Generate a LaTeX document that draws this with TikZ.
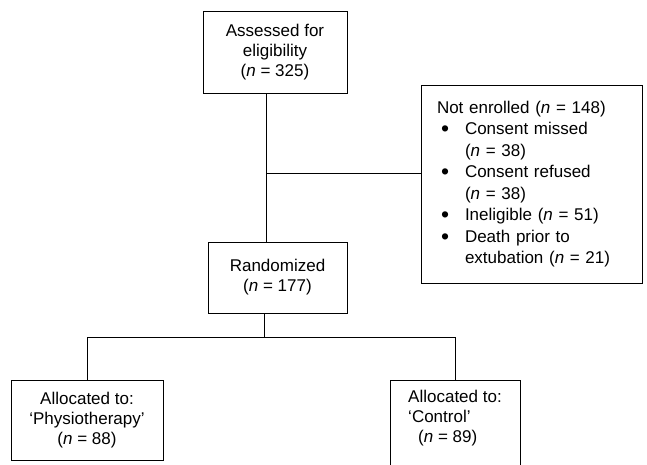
\documentclass[tikz,border=0pt]{standalone}
\usepackage{fontspec}
\setmainfont{Liberation Sans}
\tikzstyle{box} = [draw,line width=.9pt,align=center,inner sep=6pt]
\tikzstyle{link} = [line width=.9pt]
\newcommand{\nn}{\textit{n}}
\newcommand{\bul}{\hspace*{4pt}\makebox[24pt][l]{\raisebox{-2pt}{\scalebox{1.35}{\textbullet}}}}
\newcommand{\ind}{\hspace*{28pt}}

\begin{document}
\begin{tikzpicture}[x=1pt,y=1pt,every node/.style={font=\fontsize{17}{20}\selectfont}]
	\useasboundingbox (0,0) rectangle (647,464);
	\node [box,minimum width=144pt,minimum height=82pt](assess) at (275,412){Assessed for\\eligibility\\(\nn{} = 325)};
	\node [box,align=left,text width=189pt,inner xsep=16pt,minimum height=198pt,font=\fontsize{17}{21.5}\selectfont](notenr) at (531.5,280){Not enrolled (\nn{} = 148)\\
		\bul Consent missed\\ \ind(\nn{} = 38)\\
		\bul Consent refused\\ \ind(\nn{} = 38)\\
		\bul Ineligible (\nn{} = 51)\\
		\bul Death prior to\\ \ind extubation (\nn{} = 21)};
	\node [box,minimum width=139pt,minimum height=71pt](random) at (277.5,186.5){Randomized\\(\nn{} = 177)};
	\node [box,minimum width=152pt,minimum height=80pt](physio) at (87,44){Allocated to:\\`Physiotherapy'\\(\nn{} = 88)};
	\node [box,align=left,anchor=north,minimum width=130pt,inner sep=10pt,text depth=45pt](control) at (455,84){Allocated to:\\`Control'\\\hspace*{10pt}(\nn{} = 89)};

	\coordinate (spine) at (266,291);
	\coordinate (split) at (264,127);
	\draw[link](assess.south -| spine)--(random.north -| spine);
	\draw[link](spine)--(spine -| notenr.west);
	\draw[link](random.south -| split)--(split);
	\draw[link](physio.north |- split)--(control.north |- split);
	\draw[link](physio.north |- split)--(physio.north);
	\draw[link](control.north |- split)--(control.north);
\end{tikzpicture}
\end{document}
